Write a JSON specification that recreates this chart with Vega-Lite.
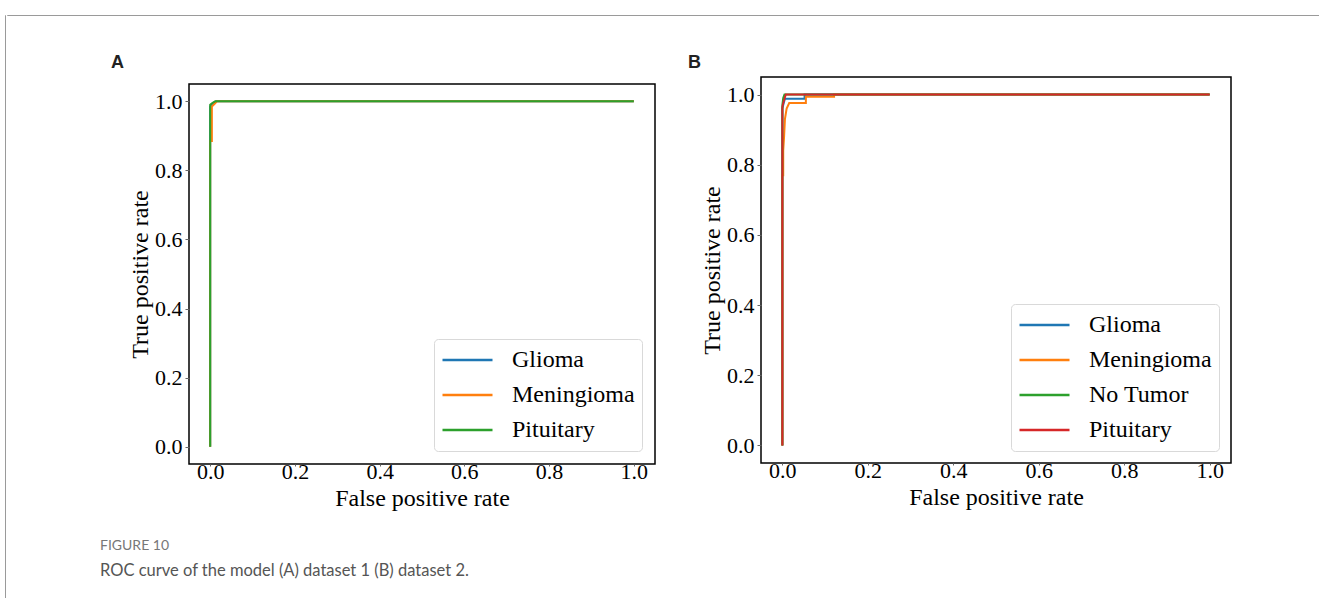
{
  "$schema": "https://vega.github.io/schema/vega-lite/v6.json",
  "padding": {"left": 4, "top": 14, "right": 0, "bottom": 0},
  "background": "white",
  "datasets": {
    "a": [
      {"series": "Glioma", "fpr": 0, "tpr": 0},
      {"series": "Glioma", "fpr": 0, "tpr": 0.985},
      {"series": "Glioma", "fpr": 0.003, "tpr": 0.99},
      {"series": "Glioma", "fpr": 0.007, "tpr": 0.995},
      {"series": "Glioma", "fpr": 0.014, "tpr": 1},
      {"series": "Glioma", "fpr": 1, "tpr": 1},
      {"series": "Meningioma", "fpr": 0, "tpr": 0},
      {"series": "Meningioma", "fpr": 0, "tpr": 0.885},
      {"series": "Meningioma", "fpr": 0.004, "tpr": 0.885},
      {"series": "Meningioma", "fpr": 0.004, "tpr": 0.985},
      {"series": "Meningioma", "fpr": 0.01, "tpr": 0.992},
      {"series": "Meningioma", "fpr": 0.016, "tpr": 1},
      {"series": "Meningioma", "fpr": 1, "tpr": 1},
      {"series": "Pituitary", "fpr": 0, "tpr": 0},
      {"series": "Pituitary", "fpr": 0, "tpr": 0.99},
      {"series": "Pituitary", "fpr": 0.005, "tpr": 0.995},
      {"series": "Pituitary", "fpr": 0.012, "tpr": 1},
      {"series": "Pituitary", "fpr": 1, "tpr": 1}
    ],
    "b": [
      {"series": "Glioma", "fpr": 0, "tpr": 0},
      {"series": "Glioma", "fpr": 0, "tpr": 0.96},
      {"series": "Glioma", "fpr": 0.003, "tpr": 0.975},
      {"series": "Glioma", "fpr": 0.006, "tpr": 0.988},
      {"series": "Glioma", "fpr": 0.052, "tpr": 0.988},
      {"series": "Glioma", "fpr": 0.052, "tpr": 1},
      {"series": "Glioma", "fpr": 1, "tpr": 1},
      {"series": "Meningioma", "fpr": 0, "tpr": 0},
      {"series": "Meningioma", "fpr": 0, "tpr": 0.77},
      {"series": "Meningioma", "fpr": 0.002, "tpr": 0.77},
      {"series": "Meningioma", "fpr": 0.002, "tpr": 0.84},
      {"series": "Meningioma", "fpr": 0.004, "tpr": 0.88},
      {"series": "Meningioma", "fpr": 0.006, "tpr": 0.93},
      {"series": "Meningioma", "fpr": 0.01, "tpr": 0.96},
      {"series": "Meningioma", "fpr": 0.016, "tpr": 0.976},
      {"series": "Meningioma", "fpr": 0.055, "tpr": 0.976},
      {"series": "Meningioma", "fpr": 0.055, "tpr": 0.994},
      {"series": "Meningioma", "fpr": 0.121, "tpr": 0.994},
      {"series": "Meningioma", "fpr": 0.121, "tpr": 1},
      {"series": "Meningioma", "fpr": 1, "tpr": 1},
      {"series": "No Tumor", "fpr": 0, "tpr": 0},
      {"series": "No Tumor", "fpr": 0, "tpr": 0.97},
      {"series": "No Tumor", "fpr": 0.002, "tpr": 0.99},
      {"series": "No Tumor", "fpr": 0.005, "tpr": 1},
      {"series": "No Tumor", "fpr": 1, "tpr": 1},
      {"series": "Pituitary", "fpr": 0, "tpr": 0},
      {"series": "Pituitary", "fpr": 0, "tpr": 0.965},
      {"series": "Pituitary", "fpr": 0.003, "tpr": 0.98},
      {"series": "Pituitary", "fpr": 0.008, "tpr": 1},
      {"series": "Pituitary", "fpr": 1, "tpr": 1}
    ]
  },
  "config": {
    "view": {"stroke": "black", "strokeWidth": 1.5},
    "axis": {
      "grid": false,
      "domain": false,
      "labelFont": "Liberation Serif",
      "labelFontSize": 22,
      "labelColor": "black",
      "tickColor": "#666",
      "tickWidth": 1,
      "tickSize": 4,
      "titleFont": "Liberation Serif",
      "titleFontSize": 24,
      "titleFontWeight": "normal",
      "titleColor": "black"
    },
    "axisX": {"tickSize": 2, "labelPadding": -5, "titlePadding": 4},
    "axisY": {"labelPadding": 3, "titlePadding": 2},
    "legend": {
      "title": null,
      "orient": "bottom-right",
      "labelFont": "Liberation Serif",
      "labelFontSize": 24,
      "labelColor": "black",
      "symbolType": "stroke",
      "symbolSize": 2500,
      "symbolStrokeWidth": 2.5,
      "clipHeight": 28,
      "rowPadding": 7,
      "labelOffset": 18,
      "padding": 7,
      "strokeColor": "#d9d9d9",
      "fillColor": "white",
      "cornerRadius": 4
    }
  },
  "hconcat": [
    {"width": 0.01, "height": 584, "data": {"values": []}, "mark": "point", "view": {"stroke": "#9a9a9a", "strokeWidth": 1}},
    {
      "vconcat": [
        {"width": 1315, "height": 0.01, "data": {"values": []}, "mark": "point", "view": {"stroke": "#9a9a9a", "strokeWidth": 1}},
        {
          "hconcat": [
            {"width": 72, "height": 10, "data": {"values": []}, "mark": "point", "view": {"stroke": null}},
            {
              "vconcat": [
                {"width": 0.01, "height": 0.01, "data": {"values": []}, "mark": "point", "view": {"stroke": null}},
                {
                  "data": {"name": "a"},
                  "width": 466,
                  "height": 380,
                  "title": {"text": "A", "anchor": "start", "frame": "group", "dx": -78, "offset": 12, "font": "Liberation Sans", "fontSize": 18, "fontWeight": "bold", "color": "#222"},
                  "mark": {"type": "line", "strokeWidth": 2, "clip": true},
                  "encoding": {
                    "x": {"field": "fpr", "type": "quantitative", "scale": {"domain": [-0.05, 1.05], "nice": false, "zero": false}, "axis": {"values": [0, 0.2, 0.4, 0.6, 0.8, 1], "format": ".1f", "title": "False positive rate"}},
                    "y": {"field": "tpr", "type": "quantitative", "scale": {"domain": [-0.05, 1.05], "nice": false, "zero": false}, "axis": {"values": [0, 0.2, 0.4, 0.6, 0.8, 1], "format": ".1f", "title": "True positive rate"}},
                    "color": {"field": "series", "type": "nominal", "scale": {"domain": ["Glioma", "Meningioma", "Pituitary"], "range": ["#1f77b4", "#ff7f0e", "#2ca02c"]}, "legend": {"offset": 13}},
                    "order": {"value": null}
                  }
                }
              ],
              "spacing": 0,
              "resolve": {"scale": {"color": "independent", "x": "independent", "y": "independent"}, "legend": {"color": "independent"}}
            },
            {
              "vconcat": [
                {"width": 0.01, "height": 0.01, "data": {"values": []}, "mark": "point", "view": {"stroke": null}},
                {
                  "data": {"name": "b"},
                  "width": 470,
                  "height": 386,
                  "title": {"text": "B", "anchor": "start", "frame": "group", "dx": -73, "offset": 5, "font": "Liberation Sans", "fontSize": 18, "fontWeight": "bold", "color": "#222"},
                  "mark": {"type": "line", "strokeWidth": 2, "clip": true},
                  "encoding": {
                    "x": {"field": "fpr", "type": "quantitative", "scale": {"domain": [-0.05, 1.05], "nice": false, "zero": false}, "axis": {"values": [0, 0.2, 0.4, 0.6, 0.8, 1], "format": ".1f", "title": "False positive rate"}},
                    "y": {"field": "tpr", "type": "quantitative", "scale": {"domain": [-0.05, 1.05], "nice": false, "zero": false}, "axis": {"values": [0, 0.2, 0.4, 0.6, 0.8, 1], "format": ".1f", "title": "True positive rate"}},
                    "color": {"field": "series", "type": "nominal", "scale": {"domain": ["Glioma", "Meningioma", "No Tumor", "Pituitary"], "range": ["#1f77b4", "#ff7f0e", "#2ca02c", "#d62728"]}, "legend": {"offset": 12}},
                    "order": {"value": null}
                  }
                }
              ],
              "spacing": 0,
              "resolve": {"scale": {"color": "independent", "x": "independent", "y": "independent"}, "legend": {"color": "independent"}}
            }
          ],
          "spacing": 31,
          "align": "none",
          "resolve": {"scale": {"color": "independent", "x": "independent", "y": "independent"}, "legend": {"color": "independent"}}
        }
      ],
      "spacing": 36,
      "title": {"text": "FIGURE 10", "subtitle": "ROC curve of the model (A) dataset 1 (B) dataset 2.", "orient": "bottom", "anchor": "start", "frame": "group", "dx": 93, "offset": 28, "font": "Lato", "fontSize": 14, "fontWeight": "normal", "color": "#777", "subtitleFont": "Lato", "subtitleFontSize": 16.5, "subtitleColor": "#555", "subtitlePadding": 10}
    }
  ],
  "spacing": 0
}
